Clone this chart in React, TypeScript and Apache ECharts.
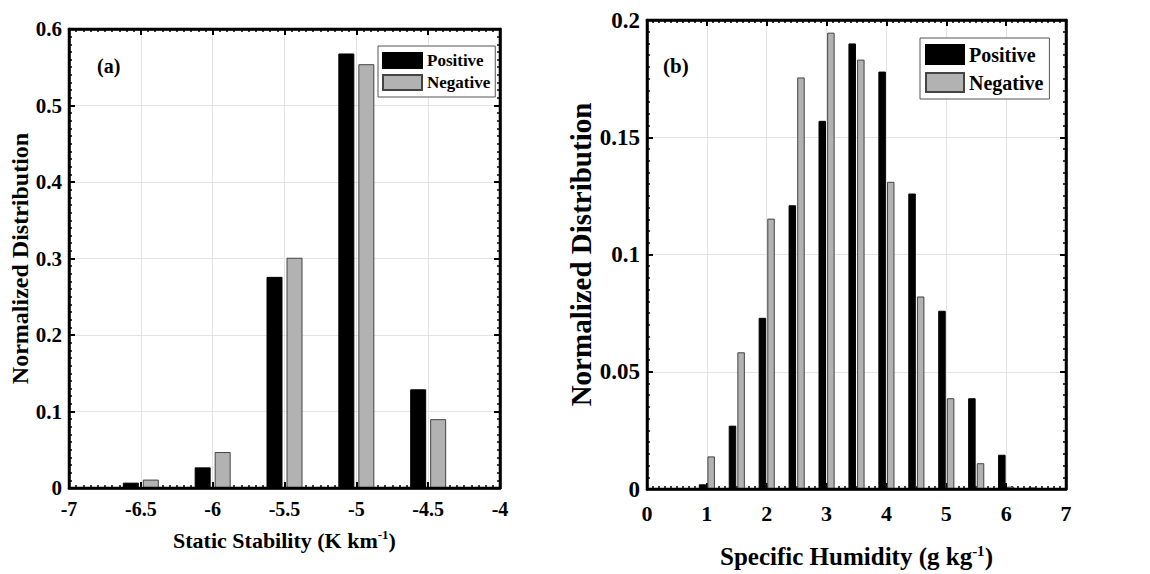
import React, { useEffect, useRef } from "react";
import * as echarts from "echarts";

// Panel (a): static stability bins
const ssBins = [-6.5, -6, -5.5, -5, -4.5];
const ssPositive = [0.007, 0.027, 0.276, 0.568, 0.129];
const ssNegative = [0.011, 0.047, 0.301, 0.554, 0.09];
const ssTicks = { min: -7, max: -4, interval: 0.5 };
const ssYTicks = { min: 0, max: 0.6, interval: 0.1 };

// Panel (b): specific humidity bins
const shBins = [1, 1.5, 2, 2.5, 3, 3.5, 4, 4.5, 5, 5.5, 6, 6.5];
const shPositive = [0.002, 0.027, 0.073, 0.121, 0.157, 0.19, 0.178, 0.126, 0.076, 0.0387, 0.0146, 0.0006];
const shNegative = [0.0139, 0.0583, 0.1153, 0.1755, 0.1946, 0.1831, 0.131, 0.0821, 0.0387, 0.011, 0.001, 0];
const shTicks = { min: 0, max: 7, interval: 1 };
const shYTicks = { min: 0, max: 0.2, interval: 0.05 };

const seriesNames = ["Positive", "Negative"];

const FONT = "'Liberation Serif', 'Times New Roman', serif";

function pairs(xs: number[], ys: number[]) {
  return xs.map((x, i) => [x, ys[i]]);
}

function ac(labelSize: number, margin: number, showLabel: boolean, showSplit: boolean) {
  return {
    show: true,
    axisLine: { show: true, onZero: false, lineStyle: { color: "#000", width: 2.5 } },
    axisTick: { show: true, inside: true, length: 6, lineStyle: { color: "#000", width: 2 } },
    minorTick: { show: true, splitNumber: 10, length: 3, lineStyle: { color: "#000", width: 1.5 } },
    splitLine: { show: showSplit, lineStyle: { color: "#e3e3e3", width: 1 } },
    axisLabel: { show: showLabel, margin, color: "#000", fontFamily: FONT, fontWeight: "bold", fontSize: labelSize },
  };
}

function nameStyle(size: number, supSize: number, supPad: number) {
  return {
    color: "#000",
    fontFamily: FONT,
    fontWeight: "bold",
    fontSize: size,
    rich: {
      t: { color: "#000", fontFamily: FONT, fontWeight: "bold", fontSize: size },
      s: { color: "#000", fontFamily: FONT, fontWeight: "bold", fontSize: supSize, padding: [0, 0, supPad, 0] },
    },
  };
}

function legendOf(left: number, top: number, w: number, h: number, gap: number, pad: number[], size: number) {
  return {
    data: seriesNames,
    orient: "vertical",
    left,
    top,
    icon: "rect",
    itemWidth: w,
    itemHeight: h,
    itemGap: gap,
    padding: pad,
    borderColor: "#555",
    borderWidth: 1,
    backgroundColor: "#fff",
    textStyle: { color: "#000", fontFamily: FONT, fontWeight: "bold", fontSize: size },
  };
}

export default function App() {
  const ref = useRef<HTMLDivElement>(null);

  useEffect(() => {
    if (!ref.current) return;
    const chart = echarts.init(ref.current, undefined, { renderer: "svg" });

    const barBlack = { color: "#000", borderColor: "#000", borderWidth: 1 };
    const barGray = { color: "#b2b2b2", borderColor: "#444", borderWidth: 1 };

    const labels = [
      { type: "text", left: 97, top: 56, style: { text: "(a)", font: `bold 20px ${FONT}`, fill: "#000" } },
      { type: "text", left: 663, top: 55, style: { text: "(b)", font: `bold 21px ${FONT}`, fill: "#000" } },
    ];

    const option: any = {
      animation: false,
      grid: [
        { left: 69, top: 29, width: 431, height: 459 },
        { left: 647, top: 20, width: 419, height: 471 },
      ],
      xAxis: [
        {
          type: "value", gridIndex: 0, position: "bottom", ...ssTicks, ...ac(20, 11, true, true),
          name: "{t|Static Stability (K km}{s|-1}{t|)}", nameLocation: "middle", nameGap: 40,
          nameTextStyle: nameStyle(22, 13, 11),
        },
        { type: "value", gridIndex: 0, position: "top", ...ssTicks, ...ac(20, 11, false, false) },
        {
          type: "value", gridIndex: 1, position: "bottom", ...shTicks, ...ac(22, 13, true, true),
          name: "{t|Specific Humidity (g kg}{s|-1}{t|)}", nameLocation: "middle", nameGap: 54,
          nameTextStyle: nameStyle(25, 15, 12),
        },
        { type: "value", gridIndex: 1, position: "top", ...shTicks, ...ac(22, 13, false, false) },
      ],
      yAxis: [
        {
          type: "value", gridIndex: 0, position: "left", ...ssYTicks, ...ac(21, 7, true, true),
          name: "Normalized Distribution", nameLocation: "middle", nameGap: 35,
          nameTextStyle: { color: "#000", fontFamily: FONT, fontWeight: "bold", fontSize: 24 },
        },
        { type: "value", gridIndex: 0, position: "right", ...ssYTicks, ...ac(21, 7, false, false) },
        {
          type: "value", gridIndex: 1, position: "left", ...shYTicks, ...ac(23, 7, true, true),
          name: "Normalized Distribution", nameLocation: "middle", nameGap: 52,
          nameTextStyle: { color: "#000", fontFamily: FONT, fontWeight: "bold", fontSize: 29 },
        },
        { type: "value", gridIndex: 1, position: "right", ...shYTicks, ...ac(23, 7, false, false) },
      ],
      legend: [
        legendOf(378, 46, 39, 15, 5, [6, 5, 6, 4], 17),
        legendOf(920, 38, 38, 19, 7, [6, 6, 6, 5], 20),
      ],
      graphic: { elements: labels },
      series: [
        { name: seriesNames[0], type: "bar", xAxisIndex: 0, yAxisIndex: 0, barWidth: 16, barGap: "25%", itemStyle: barBlack, data: pairs(ssBins, ssPositive) },
        { name: seriesNames[1], type: "bar", xAxisIndex: 0, yAxisIndex: 0, barWidth: 16, barGap: "25%", itemStyle: barGray, data: pairs(ssBins, ssNegative) },
        { name: seriesNames[0], type: "bar", xAxisIndex: 2, yAxisIndex: 2, barWidth: 7.5, barGap: "15%", itemStyle: barBlack, data: pairs(shBins, shPositive) },
        { name: seriesNames[1], type: "bar", xAxisIndex: 2, yAxisIndex: 2, barWidth: 7.5, barGap: "15%", itemStyle: barGray, data: pairs(shBins, shNegative) },
      ],
    };

    chart.setOption(option);

    // Frame of each panel, located through the axes' own scales
    const frame = (gridIndex: number, xr: { min: number; max: number }, yr: { min: number; max: number }) => {
      const p0 = chart.convertToPixel({ gridIndex } as any, [xr.min, yr.max]) as number[];
      const p1 = chart.convertToPixel({ gridIndex } as any, [xr.max, yr.min]) as number[];
      if (!p0 || !p1) return null;
      return {
        type: "rect",
        z: 50,
        silent: true,
        shape: { x: p0[0], y: p0[1], width: p1[0] - p0[0], height: p1[1] - p0[1] },
        style: { fill: "none", stroke: "#000", lineWidth: 2.5 },
      };
    };
    const frames = [frame(0, ssTicks, ssYTicks), frame(1, shTicks, shYTicks)].filter(Boolean);
    chart.setOption({ graphic: { elements: [...labels, ...frames] } }, { replaceMerge: ["graphic"] } as any);

    return () => chart.dispose();
  }, []);

  return <div ref={ref} style={{ position: "absolute", left: 0, top: 0, width: 1150, height: 574 }} />;
}
